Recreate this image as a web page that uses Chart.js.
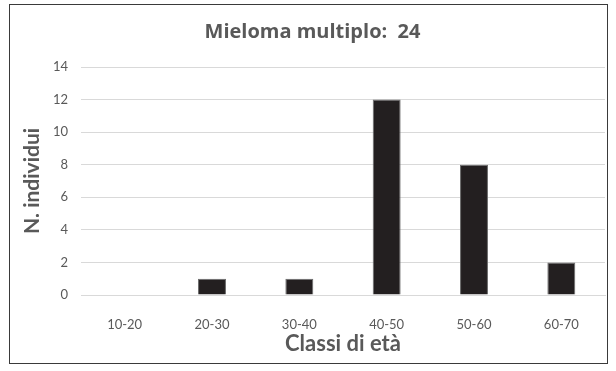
<!DOCTYPE html>
<html>
<head>
<meta charset="utf-8">
<script src="https://cdn.jsdelivr.net/npm/chart.js@4/dist/chart.umd.min.js"></script>
<style>
  html, body { margin: 0; padding: 0; background: #fff; }
  #wrap { position: relative; width: 616px; height: 371px; }
  #frame { position: absolute; left: 9px; top: 4px; width: 597px; height: 358px; border: 1px solid #3a3a3a; pointer-events: none; }
</style>
</head>
<body>
<div id="wrap">
  <canvas id="chart" width="616" height="371"></canvas>
  <div id="frame"></div>
</div>
<script>
(function(){
	'use strict';

	const categories = ['10-20', '20-30', '30-40', '40-50', '50-60', '60-70'];
	const counts = [0, 1, 1, 12, 8, 2];
	const yTicks = [0, 2, 4, 6, 8, 10, 12, 14];

	const titleText = 'Mieloma multiplo:  24';
	const xTitle = 'Classi di età';
	const yTitle = 'N. individui';

	const grey = '#595959';
	const family = 'Lato, "Open Sans", sans-serif';

	const el = document.getElementById('chart');
	new Chart(el.getContext('2d'), {
		type: 'bar',
		data: {
			labels: categories,
			datasets: [{
				data: counts,
				backgroundColor: '#231f20',
				borderColor: '#6b6b6b',
				borderWidth: 1,
				barPercentage: 0.32,
				categoryPercentage: 1
			}]
		},
		options: {
			responsive: false,
			animation: false,
			layout: { padding: { left: 20, right: 11, top: 0, bottom: 14 } },
			plugins: {
				legend: { display: false },
				tooltip: { enabled: false },
				title: {
					display: true,
					text: titleText,
					color: grey,
					font: { family: '"Open Sans", sans-serif', size: 20, weight: 'bold', lineHeight: 1.2 },
					padding: { top: 20, bottom: 23 }
				}
			},
			scales: {
				x: {
					grid: { display: false, drawTicks: false },
					border: { display: true, color: '#d9d9d9', width: 1 },
					ticks: { color: grey, font: { family: family, size: 13 }, padding: 22 },
					title: {
						display: true,
						text: xTitle,
						color: grey,
						font: { family: family, size: 22, weight: 'bold', lineHeight: 1.2 },
						padding: 0
					},
					afterFit: s => { s.height = 62; }
				},
				y: {
					min: 0,
					max: 14,
					afterBuildTicks: s => { s.ticks = yTicks.map(v => ({ value: v })); },
					grid: { color: '#d9d9d9', drawTicks: false },
					border: { display: false },
					ticks: { color: grey, font: { family: family, size: 13 }, padding: 13 },
					title: {
						display: true,
						text: yTitle,
						color: grey,
						font: { family: family, size: 21, weight: 'bold', lineHeight: 1.2 },
						padding: 0
					},
					afterFit: s => { s.width = 61; }
				}
			}
		}
	});
})();
</script>
</body>
</html>
